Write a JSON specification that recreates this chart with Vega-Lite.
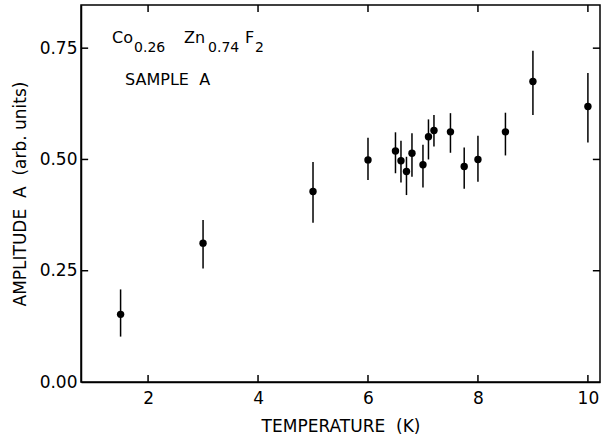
{
  "$schema": "https://vega.github.io/schema/vega-lite/v6.json",
  "width": 519,
  "height": 377,
  "autosize": {"type": "none"},
  "padding": {"left": 81, "top": 5, "right": 2, "bottom": 55},
  "background": "white",
  "config": {
    "view": {"stroke": "black", "strokeWidth": 1.5},
    "font": "DejaVu Sans",
    "axis": {
      "domainColor": "black", "domainWidth": 1.5,
      "grid": false,
      "labelFont": "DejaVu Sans", "labelFontSize": 17, "labelColor": "black",
      "titleFont": "DejaVu Sans", "titleFontSize": 17, "titleFontWeight": "normal", "titleColor": "black"
    }
  },
  "datasets": {
    "points": [
      {"T": 1.5, "A": 0.152, "lo": 0.102, "hi": 0.208},
      {"T": 3.0, "A": 0.312, "lo": 0.255, "hi": 0.364},
      {"T": 5.0, "A": 0.428, "lo": 0.358, "hi": 0.494},
      {"T": 6.0, "A": 0.499, "lo": 0.454, "hi": 0.549},
      {"T": 6.5, "A": 0.519, "lo": 0.469, "hi": 0.561},
      {"T": 6.6, "A": 0.497, "lo": 0.448, "hi": 0.542},
      {"T": 6.7, "A": 0.473, "lo": 0.420, "hi": 0.506},
      {"T": 6.8, "A": 0.514, "lo": 0.461, "hi": 0.559},
      {"T": 7.0, "A": 0.488, "lo": 0.437, "hi": 0.533},
      {"T": 7.1, "A": 0.551, "lo": 0.500, "hi": 0.590},
      {"T": 7.2, "A": 0.565, "lo": 0.529, "hi": 0.600},
      {"T": 7.5, "A": 0.562, "lo": 0.515, "hi": 0.604},
      {"T": 7.75, "A": 0.484, "lo": 0.434, "hi": 0.527},
      {"T": 8.0, "A": 0.500, "lo": 0.450, "hi": 0.553},
      {"T": 8.5, "A": 0.562, "lo": 0.509, "hi": 0.605},
      {"T": 9.0, "A": 0.675, "lo": 0.600, "hi": 0.744},
      {"T": 10.0, "A": 0.619, "lo": 0.538, "hi": 0.694}
    ],
    "mainText": [
      {"x": 1.345, "y": 0.761, "label": "Co"},
      {"x": 2.655, "y": 0.761, "label": "Zn"},
      {"x": 3.764, "y": 0.761, "label": "F"},
      {"x": 1.582, "y": 0.667, "label": "SAMPLE\u00a0\u00a0A"}
    ],
    "subText": [
      {"x": 1.745, "y": 0.741, "label": "0.26"},
      {"x": 3.091, "y": 0.741, "label": "0.74"},
      {"x": 3.945, "y": 0.741, "label": "2"}
    ]
  },
  "layer": [
    {
      "data": {"name": "points"},
      "mark": {"type": "rule", "color": "black", "strokeWidth": 1.5},
      "encoding": {
        "x": {
          "field": "T", "type": "quantitative",
          "scale": {"domain": [0.78, 10.22], "nice": false, "zero": false},
          "axis": {"values": [2, 4, 6, 8, 10], "format": "d", "ticks": false, "labelPadding": 8, "title": "TEMPERATURE\u00a0\u00a0(K)", "titlePadding": 12}
        },
        "y": {
          "field": "lo", "type": "quantitative",
          "scale": {"domain": [0, 0.847], "nice": false},
          "axis": {"values": [0, 0.25, 0.5, 0.75], "format": ".2f", "ticks": false, "labelPadding": 4, "title": "AMPLITUDE\u00a0\u00a0A\u00a0\u00a0(arb.\u00a0units)", "titlePadding": 10}
        },
        "y2": {"field": "hi"}
      }
    },
    {
      "data": {"name": "points"},
      "mark": {"type": "circle", "color": "black", "opacity": 1, "size": 55},
      "encoding": {
        "x": {"field": "T", "type": "quantitative"},
        "y": {"field": "A", "type": "quantitative"}
      }
    },
    {
      "data": {"values": [
        {"tx": 2, "ty0": 0, "ty1": 0.016}, {"tx": 4, "ty0": 0, "ty1": 0.016}, {"tx": 6, "ty0": 0, "ty1": 0.016}, {"tx": 8, "ty0": 0, "ty1": 0.016}, {"tx": 10, "ty0": 0, "ty1": 0.016},
        {"tx": 2, "ty0": 0.831, "ty1": 0.847}, {"tx": 4, "ty0": 0.831, "ty1": 0.847}, {"tx": 6, "ty0": 0.831, "ty1": 0.847}, {"tx": 8, "ty0": 0.831, "ty1": 0.847}, {"tx": 10, "ty0": 0.831, "ty1": 0.847}
      ]},
      "mark": {"type": "rule", "color": "black", "strokeWidth": 1.5},
      "encoding": {
        "x": {"field": "tx", "type": "quantitative"},
        "y": {"field": "ty0", "type": "quantitative"},
        "y2": {"field": "ty1"}
      }
    },
    {
      "data": {"values": [
        {"ty": 0.25, "tx0": 0.78, "tx1": 0.91}, {"ty": 0.5, "tx0": 0.78, "tx1": 0.91}, {"ty": 0.75, "tx0": 0.78, "tx1": 0.91},
        {"ty": 0.25, "tx0": 10.09, "tx1": 10.22}, {"ty": 0.5, "tx0": 10.09, "tx1": 10.22}, {"ty": 0.75, "tx0": 10.09, "tx1": 10.22}
      ]},
      "mark": {"type": "rule", "color": "black", "strokeWidth": 1.5},
      "encoding": {
        "y": {"field": "ty", "type": "quantitative"},
        "x": {"field": "tx0", "type": "quantitative"},
        "x2": {"field": "tx1"}
      }
    },
    {
      "data": {"name": "mainText"},
      "mark": {"type": "text", "align": "left", "baseline": "alphabetic", "fontSize": 16, "color": "black", "font": "DejaVu Sans"},
      "encoding": {
        "x": {"field": "x", "type": "quantitative"},
        "y": {"field": "y", "type": "quantitative"},
        "text": {"field": "label"}
      }
    },
    {
      "data": {"name": "subText"},
      "mark": {"type": "text", "align": "left", "baseline": "alphabetic", "fontSize": 14, "color": "black", "font": "DejaVu Sans"},
      "encoding": {
        "x": {"field": "x", "type": "quantitative"},
        "y": {"field": "y", "type": "quantitative"},
        "text": {"field": "label"}
      }
    }
  ]
}
